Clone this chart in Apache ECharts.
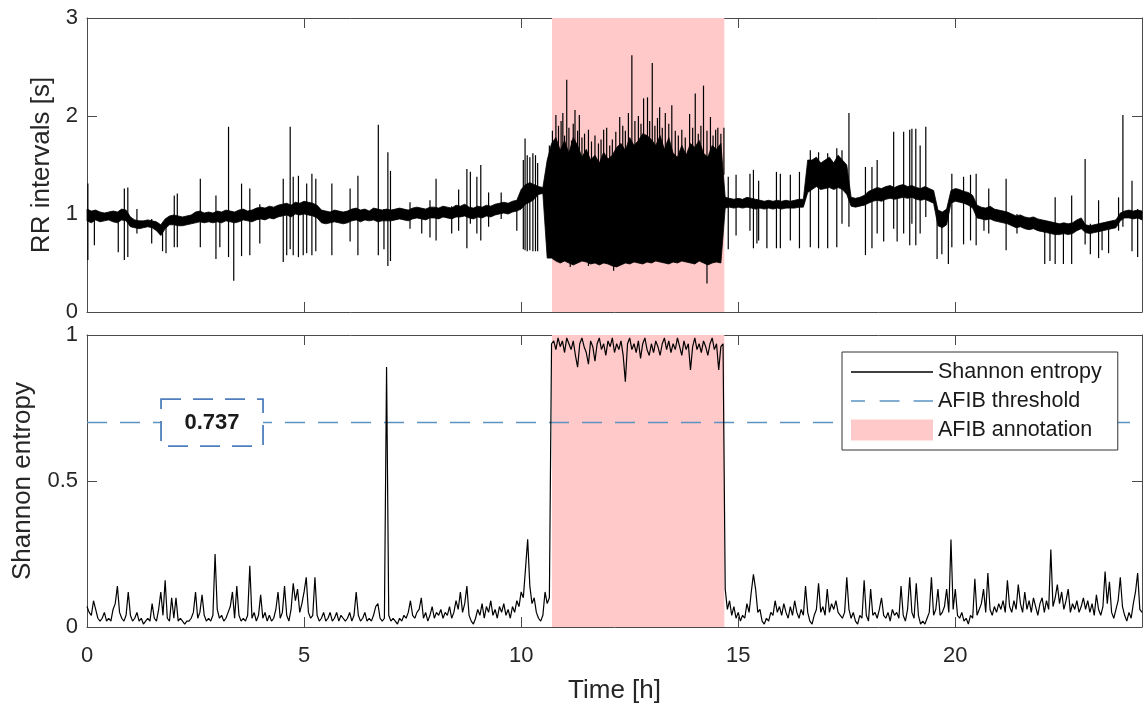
<!DOCTYPE html>
<html><head><meta charset="utf-8">
<script src="https://cdn.jsdelivr.net/npm/echarts@6/dist/echarts.min.js"></script>
<style>html,body{margin:0;padding:0;background:#fff}#c{width:1146px;height:706px}</style>
</head><body><div id="c"></div>
<script>
// ---------------- data ----------------
const X_MAX = 24.3;                 // hours shown
const AF_START = 10.71, AF_END = 14.68;   // AFIB annotation (h)
const THRESHOLD = 0.70;             // drawn threshold level
const THRESHOLD_LABEL = '0.737';
const LABEL_T = 2.88;               // time where the threshold label sits
const xTicks = [0, 5, 10, 15, 20];

// RR interval trace envelope, one value every 0.1 h (t = 0 … 24.3)
const RR_STEP = 0.1;
const rrHigh = [
 1.05,1.03,1.04,1.02,1.01,1.02,1.03,1.02,1.05,1.04,
 0.97,0.94,0.93,0.93,0.94,0.93,0.92,0.89,0.95,0.98,
 0.99,0.98,0.97,0.98,0.99,1.02,1.03,1.01,1.02,1.01,
 1.03,1.02,1.04,1.03,1.02,1.04,1.05,1.03,1.04,1.06,
 1.07,1.06,1.08,1.07,1.09,1.10,1.11,1.09,1.12,1.11,
 1.13,1.12,1.11,1.09,1.04,1.03,1.02,1.04,1.03,1.02,
 1.03,1.05,1.06,1.04,1.05,1.03,1.06,1.05,1.04,1.05,
 1.04,1.05,1.06,1.05,1.04,1.06,1.07,1.06,1.05,1.07,
 1.07,1.06,1.08,1.07,1.06,1.09,1.08,1.10,1.07,1.06,
 1.08,1.07,1.09,1.08,1.10,1.11,1.12,1.11,1.13,1.14,
 1.25,1.30,1.32,1.30,1.28,1.27,1.55,1.72,1.78,1.65,
 1.75,1.62,1.78,1.70,1.58,1.66,1.55,1.60,1.52,1.63,
 1.56,1.60,1.68,1.72,1.65,1.78,1.70,1.75,1.82,1.80,
 1.76,1.70,1.80,1.66,1.78,1.62,1.58,1.70,1.60,1.72,
 1.68,1.75,1.62,1.58,1.70,1.66,1.72,1.17,1.16,1.15,
 1.16,1.15,1.17,1.16,1.15,1.14,1.13,1.14,1.13,1.14,
 1.13,1.14,1.13,1.14,1.15,1.15,1.55,1.55,1.58,1.52,
 1.55,1.58,1.52,1.60,1.55,1.50,1.17,1.16,1.17,1.19,
 1.23,1.25,1.27,1.26,1.28,1.29,1.27,1.29,1.30,1.28,
 1.29,1.27,1.26,1.28,1.26,1.24,1.04,1.02,1.05,1.24,
 1.26,1.25,1.23,1.22,1.19,1.09,1.07,1.06,1.08,1.05,
 1.04,1.03,1.02,1.00,0.98,0.99,0.97,0.96,0.97,0.95,
 0.94,0.93,0.92,0.91,0.90,0.91,0.90,0.91,0.94,0.96,
 0.89,0.88,0.89,0.90,0.91,0.92,0.93,0.94,1.01,1.03,
 1.04,1.03,1.04,1.03
];
const rrLow = [
 0.93,0.91,0.94,0.92,0.93,0.94,0.92,0.91,0.94,0.93,
 0.87,0.86,0.85,0.86,0.87,0.86,0.83,0.78,0.85,0.89,
 0.89,0.88,0.88,0.89,0.90,0.91,0.92,0.91,0.92,0.91,
 0.92,0.91,0.93,0.92,0.91,0.92,0.94,0.93,0.92,0.94,
 0.95,0.94,0.96,0.95,0.97,0.98,0.99,0.97,1.00,0.99,
 1.00,0.99,0.98,0.96,0.91,0.90,0.91,0.92,0.91,0.90,
 0.91,0.93,0.94,0.92,0.94,0.93,0.94,0.92,0.93,0.93,
 0.93,0.94,0.95,0.94,0.93,0.95,0.96,0.95,0.94,0.96,
 0.96,0.95,0.97,0.96,0.95,0.97,0.97,0.98,0.96,0.95,
 0.97,0.96,0.98,0.97,0.99,1.00,1.01,1.00,1.02,1.03,
 1.05,1.10,1.12,1.15,1.20,1.21,0.55,0.55,0.52,0.50,
 0.52,0.50,0.48,0.50,0.52,0.51,0.49,0.50,0.48,0.50,
 0.49,0.47,0.46,0.48,0.50,0.49,0.51,0.50,0.49,0.51,
 0.50,0.52,0.51,0.50,0.49,0.51,0.50,0.52,0.51,0.50,
 0.49,0.52,0.50,0.48,0.50,0.51,0.50,1.06,1.07,1.06,
 1.07,1.06,1.07,1.06,1.05,1.06,1.05,1.06,1.05,1.06,
 1.05,1.06,1.06,1.06,1.07,1.07,1.22,1.25,1.28,1.25,
 1.26,1.27,1.25,1.27,1.25,1.20,1.08,1.07,1.08,1.09,
 1.11,1.13,1.14,1.13,1.15,1.16,1.15,1.16,1.17,1.16,
 1.17,1.15,1.14,1.15,1.13,1.11,0.88,0.86,0.89,1.11,
 1.13,1.12,1.11,1.09,1.06,0.96,0.95,0.94,0.95,0.93,
 0.92,0.91,0.90,0.88,0.86,0.87,0.85,0.84,0.85,0.83,
 0.82,0.81,0.80,0.79,0.79,0.80,0.79,0.80,0.83,0.85,
 0.81,0.80,0.81,0.82,0.83,0.84,0.85,0.86,0.93,0.96,
 0.96,0.95,0.96,0.94
];

// isolated RR spikes: [time h, lowest RR s, highest RR s]
const rrSpikes = [
 [0.02,0.53,1.31],[0.17,0.68,1.00],[0.72,0.61,0.98],[0.86,0.53,1.26],[0.94,0.56,1.27],
 [1.15,0.80,1.05],[1.49,0.70,0.95],[1.74,0.62,0.90],[1.82,0.60,0.92],[2.01,0.66,1.19],
 [2.08,0.66,1.21],[2.61,0.66,1.36],[2.97,0.54,1.19],[3.06,0.66,1.00],[3.26,0.56,1.89],
 [3.38,0.32,1.00],[3.56,0.57,1.31],[3.75,0.58,1.26],[3.98,0.70,1.10],[4.52,0.51,1.36],
 [4.60,0.58,1.05],[4.68,0.64,1.89],[4.75,0.58,1.38],[4.87,0.56,1.39],[4.98,0.58,1.10],
 [5.06,0.60,1.31],[5.18,0.58,1.41],[5.27,0.62,1.36],[5.64,0.58,1.31],[6.06,0.72,1.26],
 [6.24,0.58,1.39],[6.71,0.58,1.91],[6.84,0.64,1.05],[6.93,0.47,1.63],[6.99,0.52,1.44],
 [7.44,0.85,1.12],[7.71,0.80,1.05],[7.90,0.76,1.14],[8.04,0.73,1.36],[8.40,0.80,1.08],
 [8.56,0.83,1.25],[8.75,0.65,1.46],[8.83,0.90,1.43],[8.98,0.80,1.38],[9.07,0.73,1.50],
 [9.25,0.87,1.22],[9.54,0.95,1.22],[9.90,0.83,1.10],[10.05,0.64,1.55],[10.09,0.63,1.77],
 [10.14,0.62,1.60],[10.20,0.63,1.58],[10.27,0.62,1.62],[10.33,0.62,1.60],[10.38,0.62,1.52],
 [10.65,1.40,1.70],[10.72,1.40,1.85],[10.80,1.40,2.01],[10.86,1.40,1.90],[10.92,1.40,1.95],
 [10.96,1.40,2.03],[11.00,1.40,1.80],[11.05,1.40,2.37],[11.10,1.40,1.88],[11.13,0.46,0.90],
 [11.16,1.40,1.75],[11.20,1.40,1.92],[11.24,1.40,2.06],[11.30,1.40,1.85],[11.34,1.40,2.01],
 [11.40,1.40,1.78],[11.46,1.40,1.82],[11.55,0.47,1.86],[11.62,1.40,1.74],[11.70,1.40,1.80],
 [11.78,1.40,1.72],[11.84,1.40,1.76],[11.90,1.40,1.86],[11.97,1.40,1.88],[12.04,1.40,1.70],
 [12.10,1.40,1.76],[12.13,0.42,0.90],[12.18,1.40,1.84],[12.27,1.40,1.99],[12.34,1.40,1.90],
 [12.40,1.40,1.85],[12.47,1.40,2.03],[12.55,1.40,2.62],[12.62,1.40,1.95],[12.70,1.40,2.00],
 [12.76,1.40,1.92],[12.82,1.40,2.18],[12.91,1.40,2.19],[12.96,1.40,1.95],[13.02,1.40,2.54],
 [13.08,1.40,1.90],[13.14,1.40,1.98],[13.19,1.40,2.09],[13.25,1.40,1.88],[13.32,1.40,2.03],
 [13.40,1.40,1.92],[13.47,1.40,2.11],[13.55,1.40,1.85],[13.62,1.40,1.80],[13.70,1.40,1.86],
 [13.78,1.40,1.78],[13.88,1.40,2.02],[13.95,1.40,1.88],[14.01,1.40,2.23],[14.08,1.40,1.82],
 [14.14,1.40,1.90],[14.20,1.40,2.31],[14.28,0.29,1.85],[14.36,1.40,1.99],[14.42,1.40,1.80],
 [14.48,1.40,1.86],[14.53,1.40,1.88],[14.60,1.40,1.82],[14.67,1.40,1.88],
 [14.77,0.64,1.38],[14.95,0.78,1.40],[15.27,0.83,1.41],[15.35,0.65,1.45],[15.43,0.70,1.15],
 [15.47,0.73,1.34],[15.66,0.65,1.10],[15.88,0.65,1.43],[15.97,0.65,1.41],[16.20,0.73,1.40],
 [16.41,0.65,1.43],[16.66,0.66,1.65],[16.85,0.65,1.63],[17.06,0.65,1.62],[17.27,0.66,1.67],
 [17.39,0.90,1.65],[17.55,0.87,2.03],[17.93,0.58,1.48],[18.08,0.65,1.48],[18.20,0.80,1.55],
 [18.35,0.72,1.20],[18.58,0.85,1.84],[18.66,0.72,1.20],[18.81,0.80,1.84],[18.95,0.68,1.86],
 [19.00,0.90,1.87],[19.09,0.68,1.87],[19.19,0.80,1.70],[19.32,0.97,1.89],[19.58,0.54,1.05],
 [19.69,0.59,1.00],[19.84,0.49,1.02],[19.92,0.66,1.41],[20.19,0.69,1.38],[20.35,0.73,1.40],
 [20.48,0.68,1.41],[20.66,0.83,1.05],[20.77,0.80,1.26],[21.17,0.63,1.36],[21.42,0.80,1.00],
 [22.06,0.49,0.90],[22.18,0.52,0.90],[22.30,0.49,1.17],[22.49,0.49,0.90],[22.68,0.49,1.19],
 [22.99,0.69,1.56],[23.11,0.59,0.90],[23.30,0.55,1.14],[23.38,0.63,0.90],[23.53,0.60,0.92],
 [23.76,0.83,1.17],[23.86,0.87,2.01],[24.07,0.62,1.34],[24.20,0.56,1.05]
];

// Shannon entropy, one value every 0.05 h (t = 0 … 24.3)
const ENT_STEP = 0.05;
const entropy = [
 0.07,0.05,0.04,0.09,0.06,0.03,0.02,0.03,0.05,0.02,0.03,0.02,0.06,0.08,0.14,0.05,0.03,0.02,0.04,0.12,
 0.04,0.02,0.03,0.05,0.02,0.03,0.01,0.02,0.03,0.02,0.08,0.03,0.02,0.06,0.12,0.04,0.16,0.03,0.02,0.10,
 0.03,0.10,0.02,0.03,0.02,0.01,0.02,0.02,0.03,0.05,0.12,0.03,0.05,0.11,0.04,0.02,0.03,0.02,0.04,0.25,
 0.06,0.03,0.04,0.02,0.03,0.05,0.07,0.12,0.03,0.14,0.04,0.02,0.03,0.02,0.04,0.21,0.03,0.05,0.02,0.04,
 0.11,0.03,0.05,0.02,0.04,0.02,0.03,0.06,0.12,0.03,0.05,0.14,0.04,0.02,0.06,0.15,0.09,0.13,0.05,0.08,
 0.12,0.17,0.05,0.03,0.04,0.17,0.04,0.02,0.03,0.05,0.02,0.03,0.05,0.02,0.03,0.05,0.02,0.04,0.03,0.02,
 0.03,0.05,0.02,0.04,0.12,0.04,0.02,0.03,0.05,0.02,0.03,0.02,0.04,0.07,0.08,0.03,0.02,0.03,0.89,0.04,
 0.02,0.03,0.02,0.01,0.03,0.02,0.04,0.03,0.05,0.09,0.04,0.03,0.05,0.06,0.10,0.03,0.05,0.02,0.04,0.07,
 0.03,0.05,0.04,0.06,0.03,0.05,0.04,0.07,0.03,0.05,0.09,0.06,0.12,0.05,0.08,0.14,0.04,0.02,0.01,0.03,
 0.06,0.04,0.08,0.03,0.07,0.05,0.09,0.04,0.06,0.03,0.07,0.05,0.08,0.04,0.06,0.03,0.07,0.05,0.09,0.07,
 0.12,0.10,0.20,0.30,0.14,0.08,0.10,0.05,0.03,0.02,0.04,0.12,0.08,0.10,0.97,0.98,0.95,0.99,0.96,0.98,
 0.94,0.99,0.97,0.95,0.98,0.93,0.89,0.97,0.99,0.96,0.94,0.90,0.98,0.96,0.91,0.97,0.99,0.95,0.97,0.93,
 0.98,0.96,0.99,0.94,0.97,0.95,0.98,0.93,0.84,0.97,0.99,0.95,0.97,0.94,0.98,0.92,0.97,0.99,0.95,0.93,
 0.97,0.94,0.98,0.96,0.93,0.97,0.99,0.95,0.98,0.94,0.97,0.95,0.99,0.96,0.93,0.98,0.95,0.97,0.88,0.96,
 0.99,0.95,0.97,0.94,0.98,0.96,0.93,0.97,0.99,0.95,0.97,0.88,0.96,0.97,0.13,0.06,0.09,0.04,0.07,0.03,
 0.05,0.02,0.04,0.03,0.08,0.05,0.12,0.18,0.13,0.05,0.06,0.02,0.01,0.03,0.02,0.05,0.04,0.09,0.05,0.07,
 0.04,0.08,0.05,0.03,0.07,0.04,0.09,0.05,0.03,0.06,0.04,0.14,0.05,0.02,0.01,0.04,0.06,0.15,0.05,0.07,
 0.04,0.13,0.05,0.08,0.06,0.09,0.05,0.04,0.03,0.05,0.17,0.06,0.03,0.05,0.02,0.01,0.04,0.03,0.16,0.04,
 0.02,0.13,0.04,0.05,0.03,0.06,0.10,0.04,0.03,0.05,0.02,0.06,0.04,0.05,0.03,0.14,0.04,0.02,0.06,0.17,
 0.05,0.03,0.15,0.04,0.01,0.02,0.01,0.03,0.05,0.17,0.04,0.06,0.13,0.04,0.05,0.07,0.13,0.05,0.30,0.06,
 0.13,0.04,0.03,0.05,0.02,0.03,0.01,0.04,0.03,0.165,0.04,0.06,0.08,0.13,0.05,0.185,0.06,0.04,0.07,0.05,
 0.08,0.06,0.09,0.05,0.16,0.07,0.05,0.09,0.06,0.145,0.08,0.05,0.12,0.06,0.09,0.05,0.10,0.07,0.04,0.08,
 0.10,0.05,0.09,0.06,0.265,0.07,0.10,0.145,0.08,0.12,0.06,0.09,0.13,0.05,0.08,0.06,0.09,0.05,0.07,0.10,
 0.06,0.09,0.05,0.08,0.04,0.11,0.06,0.04,0.07,0.19,0.08,0.155,0.05,0.03,0.06,0.09,0.17,0.07,0.04,0.02,
 0.05,0.03,0.08,0.12,0.185,0.06,0.05
];

// ---------------- chart ----------------
const FONT = '"Liberation Sans", Arial, Helvetica, sans-serif';
const TXT = '#262626', AXC = '#4a4a4a';
const PINK = '#ffc9c9', BLUE = '#5b93c3', BOXBLUE = '#4d7fbd';
const ICON_SOLID = 'path://M0,0H82V1.4H0Z';
const ICON_DASH = 'path://M0,0H14V1.4H0Z M28.6,0H48.6V1.4H28.6Z M62.6,0H82V1.4H62.6Z';

const rrData = rrHigh.map((h, i) => [+(i * RR_STEP).toFixed(2), rrLow[i], h]);
const entData = entropy.map((v, i) => [+(i * ENT_STEP).toFixed(2), v]);

function xAxisDef(grid, pos, labels) {
  const d = {
    gridIndex: grid, type: 'value', position: pos, min: 0, max: X_MAX, interval: 5,
    axisLine: { show: true, onZero: false, lineStyle: { color: AXC, width: 1 } },
    axisTick: { show: true, inside: true, length: 10, lineStyle: { color: AXC } },
    axisLabel: labels ? { show: true, fontSize: 22, color: TXT, margin: 18, fontFamily: FONT,
      formatter: v => xTicks.includes(v) ? String(v) : '' } : { show: false },
    splitLine: { show: false }
  };
  if (labels) {
    d.name = 'Time [h]'; d.nameLocation = 'middle'; d.nameGap = 51;
    d.nameTextStyle = { fontSize: 26, color: TXT, fontFamily: FONT };
  }
  return d;
}
function yAxisDef(grid, pos, max, interval, name, gap) {
  const d = {
    gridIndex: grid, type: 'value', position: pos, min: 0, max: max, interval: interval,
    axisLine: { show: true, onZero: false, lineStyle: { color: AXC, width: 1 } },
    axisTick: { show: true, inside: true, length: 10, lineStyle: { color: AXC } },
    axisLabel: name ? { show: true, fontSize: 22, color: TXT, margin: 9, fontFamily: FONT } : { show: false },
    splitLine: { show: false }
  };
  if (name) {
    d.name = name; d.nameLocation = 'middle'; d.nameGap = gap;
    d.nameTextStyle = { fontSize: 26, color: TXT, fontFamily: FONT };
  }
  return d;
}

function renderAF(params, api) {
  const cs = params.coordSys;
  const a = api.coord([api.value(0), 0]);
  const b = api.coord([api.value(1), 0]);
  return { type: 'rect', shape: { x: a[0], y: cs.y, width: b[0] - a[0], height: cs.height },
           style: { fill: PINK } };
}
function renderBand(params, api) {
  if (params.dataIndex !== 0) return null;
  const pts = [];
  for (let i = 0; i < rrData.length; i++) pts.push(api.coord([rrData[i][0], rrData[i][2]]));
  for (let i = rrData.length - 1; i >= 0; i--) pts.push(api.coord([rrData[i][0], rrData[i][1]]));
  return { type: 'polygon', shape: { points: pts }, style: { fill: '#000', stroke: '#000', lineWidth: 0.8 } };
}
function renderSpike(params, api) {
  const a = api.coord([api.value(0), api.value(1)]);
  const b = api.coord([api.value(0), api.value(2)]);
  return { type: 'line', shape: { x1: a[0], y1: a[1], x2: b[0], y2: b[1] },
           style: { stroke: '#000', lineWidth: 1.2 } };
}
function renderLabel(params, api) {
  const c = api.coord([api.value(0), api.value(1)]);
  return { type: 'group', children: [
    { type: 'rect', shape: { x: c[0] - 51, y: c[1] - 23.5, width: 102, height: 47 },
      style: { fill: '#fff', stroke: BOXBLUE, lineWidth: 1.8, lineDash: [20, 12] } },
    { type: 'text', style: { text: THRESHOLD_LABEL, x: c[0], y: c[1], align: 'center', verticalAlign: 'middle',
      font: 'bold 22px ' + FONT, fill: '#1a1a1a' } }
  ] };
}

const chart = echarts.init(document.getElementById('c'), null, { renderer: 'canvas' });
chart.setOption({
  animation: false,
  backgroundColor: '#fff',
  textStyle: { fontFamily: FONT },
  grid: [
    { left: 87, top: 18, width: 1055, height: 294, containLabel: false, outerBoundsMode: 'none' },
    { left: 87, top: 335, width: 1055, height: 292, containLabel: false, outerBoundsMode: 'none' }
  ],
  xAxis: [xAxisDef(0, 'bottom', false), xAxisDef(0, 'top', false), xAxisDef(1, 'bottom', true), xAxisDef(1, 'top', false)],
  yAxis: [
    yAxisDef(0, 'left', 3, 1, 'RR intervals [s]', 31), yAxisDef(0, 'right', 3, 1),
    yAxisDef(1, 'left', 1, 0.5, 'Shannon entropy', 51), yAxisDef(1, 'right', 1, 0.5)
  ],
  legend: {
    orient: 'vertical', left: 842, top: 352, padding: [9, 16, 9, 9],
    itemWidth: 82, itemHeight: 21, itemGap: 7, selectedMode: false,
    backgroundColor: '#fff', borderColor: '#333', borderWidth: 1, borderRadius: 0,
    textStyle: { fontSize: 21.5, color: '#1a1a1a', fontFamily: FONT },
    data: [{ name: 'Shannon entropy', icon: ICON_SOLID }, { name: 'AFIB threshold', icon: ICON_DASH },
           { name: 'AFIB annotation', icon: 'rect' }]
  },
  series: [
    { type: 'custom', name: 'AFIB annotation', xAxisIndex: 0, yAxisIndex: 0, z: 1, silent: true,
      itemStyle: { color: PINK }, data: [[AF_START, AF_END, 0]], encode: { x: [0, 1], y: 2 }, renderItem: renderAF },
    { type: 'custom', name: 'RR band', xAxisIndex: 0, yAxisIndex: 0, z: 3, silent: true,
      data: rrData, encode: { x: 0, y: [1, 2] }, renderItem: renderBand },
    { type: 'custom', name: 'RR spikes', xAxisIndex: 0, yAxisIndex: 0, z: 3, silent: true,
      data: rrSpikes, encode: { x: 0, y: [1, 2] }, renderItem: renderSpike },
    { type: 'custom', name: 'AFIB annotation', xAxisIndex: 2, yAxisIndex: 2, z: 1, silent: true,
      itemStyle: { color: PINK }, data: [[AF_START, AF_END, 0]], encode: { x: [0, 1], y: 2 }, renderItem: renderAF },
    { type: 'line', name: 'AFIB threshold', xAxisIndex: 2, yAxisIndex: 2, z: 2, silent: true,
      symbol: 'none', color: BLUE, itemStyle: { color: BLUE }, data: [[0, THRESHOLD], [X_MAX, THRESHOLD]],
      lineStyle: { color: BLUE, width: 1.5, type: [20, 13] } },
    { type: 'line', name: 'Shannon entropy', xAxisIndex: 2, yAxisIndex: 2, z: 3, silent: true,
      symbol: 'none', color: '#000', itemStyle: { color: '#000' }, data: entData,
      lineStyle: { color: '#000', width: 1.2 } },
    { type: 'custom', name: 'threshold label', xAxisIndex: 2, yAxisIndex: 2, z: 5, silent: true,
      data: [[LABEL_T, THRESHOLD]], encode: { x: 0, y: 1 }, renderItem: renderLabel }
  ]
});
</script>
</body></html>
